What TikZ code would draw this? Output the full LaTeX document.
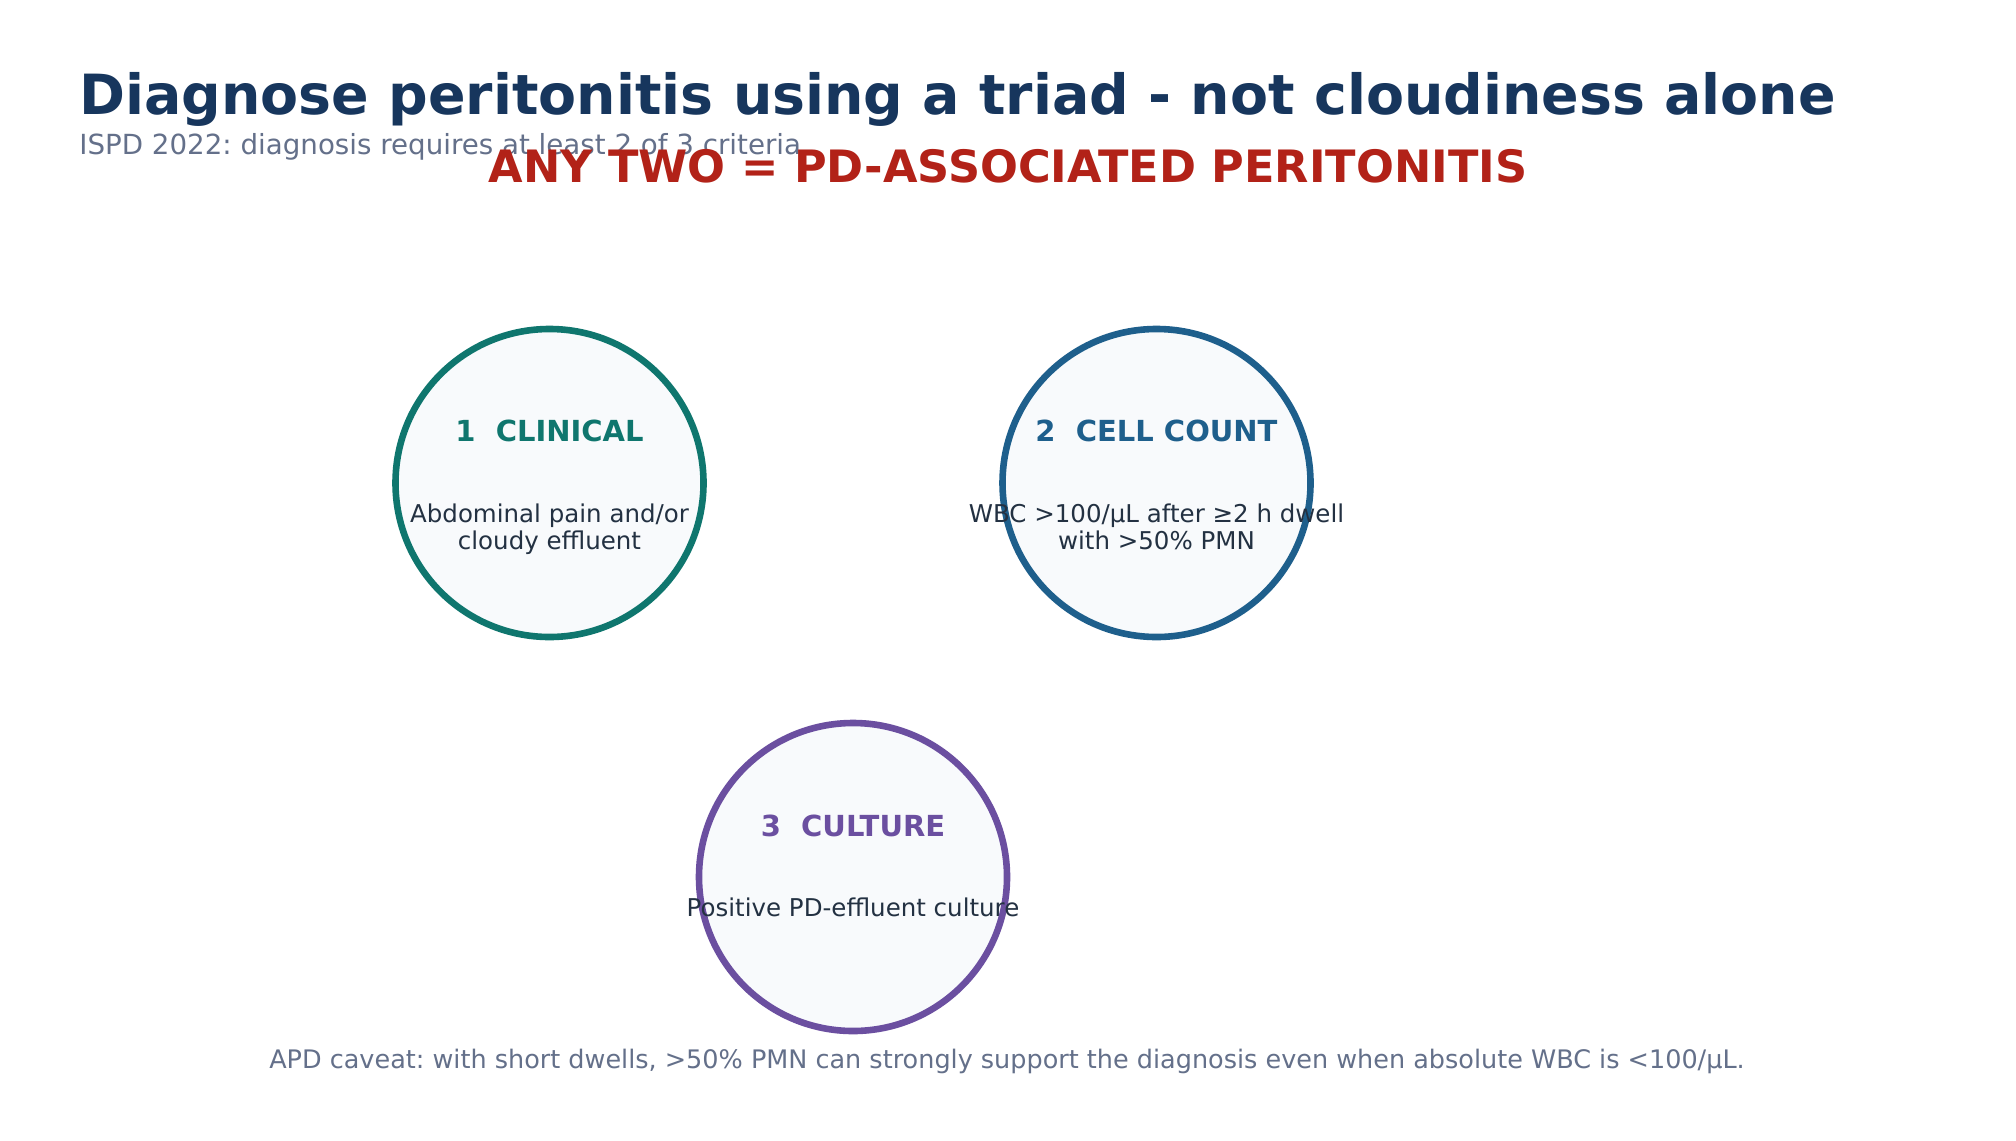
\documentclass[tikz,border=0pt]{standalone}
\usepackage{fontspec}
\setmainfont{DejaVu Sans}
\frenchspacing
\definecolor{titlec}{HTML}{17365D}
\definecolor{subc}{HTML}{64708A}
\definecolor{redc}{HTML}{B22218}
\definecolor{tealc}{HTML}{0F766E}
\definecolor{bluec}{HTML}{1E5F8C}
\definecolor{purc}{HTML}{6B4FA0}
\definecolor{fillc}{HTML}{F8FAFC}
\definecolor{bodyc}{HTML}{233142}
\tikzset{
  crit/.style={circle, draw=#1, line width=3.3pt, fill=fillc, minimum size=154pt, inner sep=0pt},
  crittitle/.style={anchor=base, text=#1, font=\fontsize{14.5}{17}\selectfont\bfseries, inner sep=0pt},
  critbody/.style={anchor=base, text=bodyc, align=center, font=\fontsize{12.25}{13.3}\selectfont, inner sep=0pt},
}
\begin{document}
\begin{tikzpicture}[x=0.5pt,y=-0.5pt]
\useasboundingbox[fill=white] (0,0) rectangle (2016,1140);
\node[anchor=base west, text=titlec, font=\fontsize{27.7}{32}\selectfont\bfseries, inner sep=0pt] (title) at (79,114) {Diagnose peritonitis using a triad - not cloudiness alone};
\node[anchor=base west, text=subc, font=\fontsize{13.85}{16}\selectfont, inner sep=0pt] (sub) at (79,154) {ISPD 2022: diagnosis requires at least 2 of 3 criteria};
\node[anchor=base, text=redc, font=\fontsize{22.3}{26}\selectfont\bfseries, inner sep=0pt] (rule) at (1008,182) {ANY TWO = PD-ASSOCIATED PERITONITIS};

\node[crit=tealc] (c1) at (549.5,483) {};
\node[crit=bluec] (c2) at (1156.5,483) {};
\node[crit=purc] (c3) at (853,877) {};

\node[crittitle=tealc] (t1) at (549.5,441) {1\ \ CLINICAL};
\node[critbody] (b1) at (549.5,549) {Abdominal pain and/or\\cloudy effluent};
\node[crittitle=bluec] (t2) at (1156.5,441) {2\ \ CELL COUNT};
\node[critbody] (b2) at (1156.5,549) {WBC >100/μL after ≥2 h dwell\\with >50\% PMN};
\node[crittitle=purc] (t3) at (853,836) {3\ \ CULTURE};
\node[critbody] (b3) at (853,916) {Positive PD-effluent culture};

\node[anchor=base, text=subc, font=\fontsize{12.75}{15}\selectfont, inner sep=0pt] (foot) at (1007,1068) {APD caveat: with short dwells, >50\% PMN can strongly support the diagnosis even when absolute WBC is <100/μL.};
\end{tikzpicture}
\end{document}
